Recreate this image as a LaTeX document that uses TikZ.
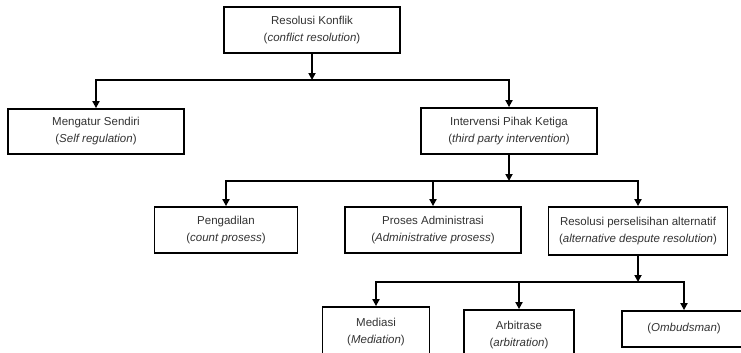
\documentclass[tikz,border=0pt]{standalone}
\usepackage{fontspec}
\setmainfont{Liberation Sans}
\usetikzlibrary{arrows.meta}
\begin{document}
\begin{tikzpicture}[x=1pt,y=-1pt,
  box/.style={draw=black,line width=1.8pt,fill=white,align=center,inner sep=0pt,
    font=\fontsize{11.5}{17}\selectfont,text=black!80},
  conn/.style={line width=1.8pt,draw=black},
  arr/.style={conn,-{Triangle[width=7pt,length=7pt]}}]
\useasboundingbox (0,0) rectangle (741,353);
\clip (0,0) rectangle (741,353);
\fill[white] (0,0) rectangle (741,353);
% boxes
\node[box,minimum width=176pt,minimum height=46pt] (top) at (312,30) {Resolusi Konflik\\(\textit{conflict resolution})};
\node[box,minimum width=176pt,minimum height=45pt] (ms) at (96,131.5) {Mengatur Sendiri\\(\textit{Self regulation})};
\node[box,minimum width=176pt,minimum height=46pt] (ipk) at (509,131) {Intervensi Pihak Ketiga\\(\textit{third party intervention})};
\node[box,minimum width=143pt,minimum height=46pt] (peng) at (226,230) {Pengadilan\\(\textit{count prosess})};
\node[box,minimum width=176pt,minimum height=46pt] (pa) at (433,230) {Proses Administrasi\\(\textit{Administrative prosess})};
\node[box,minimum width=179pt,minimum height=48pt] (rpa) at (638,231) {Resolusi perselisihan alternatif\\(\textit{alternative despute resolution})};
\node[box,minimum width=107pt,minimum height=50pt] (med) at (376,332) {Mediasi\\(\textit{Mediation})};
\node[box,minimum width=110pt,minimum height=50pt] (arb) at (519,335) {Arbitrase\\(\textit{arbitration})};
\node[box,minimum width=124pt,minimum height=36pt] (omb) at (684,329) {(\textit{Ombudsman})};
% junctions
\coordinate (j1) at (312,80);
\coordinate (j2) at (509,181);
\coordinate (j3) at (638,282);
% connectors
\draw[arr] (top.south) -- (j1);
\draw[arr] (j1) -| (ms.north);
\draw[arr] (j1) -| (ipk.north);
\draw[arr] (ipk.south) -- (j2);
\draw[arr] (j2) -| (peng.north);
\draw[arr] (j2) -| (pa.north);
\draw[arr] (j2) -| (rpa.north);
\draw[arr] (rpa.south) -- (j3);
\draw[arr] (j3) -| (med.north);
\draw[arr] (j3) -| (arb.north);
\draw[arr] (j3) -| (omb.north);
\end{tikzpicture}
\end{document}
